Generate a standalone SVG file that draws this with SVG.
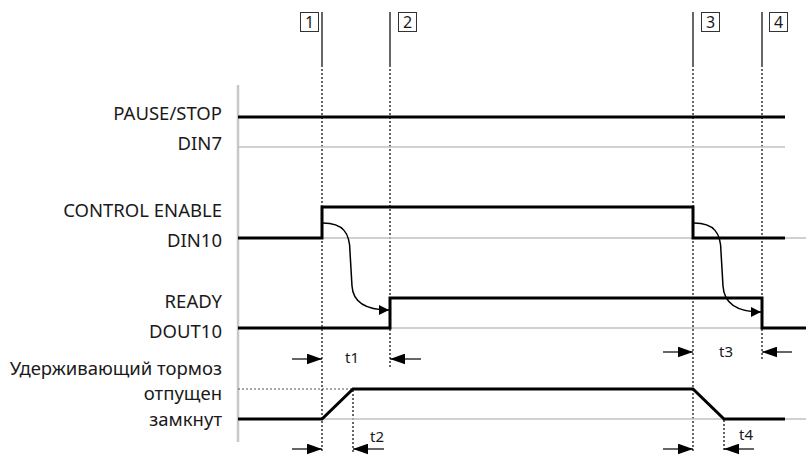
<svg xmlns="http://www.w3.org/2000/svg" width="806" height="455" viewBox="0 0 806 455">
<style>
.lbl{font-family:"Noto Sans","Open Sans",sans-serif;font-size:18.5px;fill:#1a1a1a;text-anchor:end}
.t{font-family:"Noto Sans","Open Sans",sans-serif;font-size:15px;fill:#1a1a1a;text-anchor:middle}
.num{font-family:"Noto Sans","Open Sans",sans-serif;font-size:16px;fill:#1a1a1a;text-anchor:middle}
.sig{fill:none;stroke:#000;stroke-width:3;stroke-linejoin:miter}
.base{fill:none;stroke:#c0c0c0;stroke-width:1.5}
.vs{stroke:#000;stroke-width:1.2}
.vd{stroke:#000;stroke-width:1.2;stroke-dasharray:2 2}
.curve{fill:none;stroke:#000;stroke-width:1.5}
.dim{stroke:#000;stroke-width:1.2}
.box{fill:#fff;stroke:#333;stroke-width:1}
</style>
<defs>
<marker id="ah" viewBox="0 0 10 10" refX="10" refY="5" markerWidth="10" markerHeight="10" markerUnits="userSpaceOnUse" orient="auto">
<path d="M0,0 L10,5 L0,10 Z" fill="#000"/>
</marker>
<marker id="dh" viewBox="0 0 14 10" refX="14" refY="5" markerWidth="15" markerHeight="11" markerUnits="userSpaceOnUse" orient="auto">
<path d="M0,0 L14,5 L0,10 Z" fill="#000"/>
</marker>
</defs>
<g id="axis">
<line x1="238" y1="85" x2="238" y2="442" stroke="#c8c8c8" stroke-width="2.5"/>
</g>
<g id="markers">
<g id="m1"><line class="vs" x1="322" y1="12" x2="322" y2="65"/><line class="vd" x1="322" y1="65" x2="322" y2="452"/><rect class="box" x="300.5" y="12.5" width="18" height="19"/><text class="num" x="309.5" y="28">1</text></g>
<g id="m2"><line class="vs" x1="390" y1="12" x2="390" y2="65"/><line class="vd" x1="390" y1="65" x2="390" y2="367"/><rect class="box" x="398.5" y="12.5" width="18" height="19"/><text class="num" x="407.5" y="28">2</text></g>
<g id="m3"><line class="vs" x1="693" y1="12" x2="693" y2="65"/><line class="vd" x1="693" y1="65" x2="693" y2="452"/><rect class="box" x="701.5" y="12.5" width="18" height="19"/><text class="num" x="710.5" y="28">3</text></g>
<g id="m4"><line class="vs" x1="762" y1="12" x2="762" y2="65"/><line class="vd" x1="762" y1="65" x2="762" y2="360"/><rect class="box" x="769.5" y="12.5" width="18" height="19"/><text class="num" x="778.5" y="28">4</text></g>
<line class="vd" x1="353" y1="390" x2="353" y2="452"/>
<line class="vd" x1="724" y1="420" x2="724" y2="452"/>
</g>
<g id="pause">
<text class="lbl" x="222" y="120">PAUSE/STOP</text>
<text class="lbl" x="222" y="150">DIN7</text>
<line class="base" x1="238" y1="147" x2="785" y2="147"/>
<line class="sig" x1="238" y1="117" x2="785" y2="117"/>
</g>
<g id="enable">
<text class="lbl" x="222" y="217">CONTROL ENABLE</text>
<text class="lbl" x="222" y="247">DIN10</text>
<line class="base" x1="238" y1="238" x2="806" y2="238"/>
<polyline class="sig" points="238,238 322,238 322,207 693,207 693,238 785,238"/>
</g>
<g id="ready">
<text class="lbl" x="222" y="308">READY</text>
<text class="lbl" x="222" y="338">DOUT10</text>
<line class="base" x1="238" y1="328" x2="762" y2="328"/>
<polyline class="sig" points="238,328 390,328 390,298 762,298 762,328 806,328"/>
</g>
<g id="brake">
<text class="lbl" x="222" y="374.5">Удерживающий тормоз</text>
<text class="lbl" x="222" y="400">отпущен</text>
<text class="lbl" x="222" y="425.5">замкнут</text>
<line x1="238" y1="389" x2="353" y2="389" stroke="#555" stroke-width="1" stroke-dasharray="2 2"/>
<line class="base" x1="238" y1="419" x2="806" y2="419"/>
<polyline class="sig" points="238,419 322,419 353,389 693,389 724,419 785,419"/>
</g>
<g id="connectors">
<path class="curve" marker-end="url(#ah)" d="M323,223 C343,223 350,233 350,252 L352,286 C353,302 366,310 389,310"/>
<path class="curve" marker-end="url(#ah)" d="M694,223 C714,223 721,233 721,252 L723,286 C724,303 737,312 761,312"/>
</g>
<g id="times">
<line class="dim" x1="292" y1="359" x2="322" y2="359" marker-end="url(#dh)"/>
<line class="dim" x1="421" y1="359" x2="390" y2="359" marker-end="url(#dh)"/>
<text class="t" x="352" y="363">t1</text>
<line class="dim" x1="292" y1="449" x2="322" y2="449" marker-end="url(#dh)"/>
<line class="dim" x1="384" y1="449" x2="353" y2="449" marker-end="url(#dh)"/>
<text class="t" x="377" y="442">t2</text>
<line class="dim" x1="663" y1="352" x2="693" y2="352" marker-end="url(#dh)"/>
<line class="dim" x1="792" y1="352" x2="762" y2="352" marker-end="url(#dh)"/>
<text class="t" x="726" y="357">t3</text>
<line class="dim" x1="663" y1="449" x2="693" y2="449" marker-end="url(#dh)"/>
<line class="dim" x1="754" y1="449" x2="724" y2="449" marker-end="url(#dh)"/>
<text class="t" x="746" y="440">t4</text>
</g>
</svg>
